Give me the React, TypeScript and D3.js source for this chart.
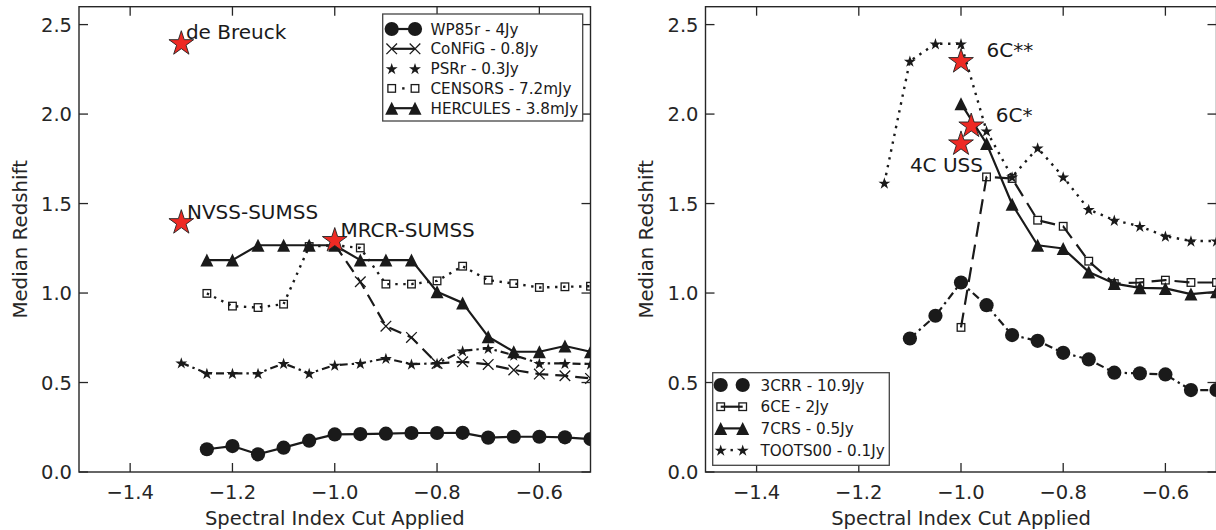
import React from 'react';
import * as d3 from 'd3';

// ---------- data ----------
const xTicks = [-1.4, -1.2, -1.0, -0.8, -0.6];
const yTicks = [0.0, 0.5, 1.0, 1.5, 2.0, 2.5];

// left panel
const wp85X = [-1.25, -1.2, -1.15, -1.1, -1.05, -1.0, -0.95, -0.9, -0.85, -0.8, -0.75, -0.7, -0.65, -0.6, -0.55, -0.5];
const wp85Y = [0.127, 0.145, 0.099, 0.136, 0.175, 0.21, 0.212, 0.214, 0.218, 0.218, 0.219, 0.192, 0.197, 0.197, 0.194, 0.184];
const configX = [-1.0, -0.95, -0.9, -0.85, -0.8, -0.75, -0.7, -0.65, -0.6, -0.55, -0.5];
const configY = [1.27, 1.063, 0.815, 0.752, 0.607, 0.616, 0.601, 0.57, 0.547, 0.538, 0.523];
const psrX = [-1.3, -1.25, -1.2, -1.15, -1.1, -1.05, -1.0, -0.95, -0.9, -0.85, -0.8, -0.75, -0.7, -0.65, -0.6, -0.55, -0.5];
const psrY = [0.61, 0.551, 0.551, 0.551, 0.607, 0.551, 0.597, 0.607, 0.635, 0.603, 0.607, 0.677, 0.691, 0.653, 0.607, 0.607, 0.603];
const censorsX = [-1.25, -1.2, -1.15, -1.1, -1.05, -1.0, -0.95, -0.9, -0.85, -0.8, -0.75, -0.7, -0.65, -0.6, -0.55, -0.5];
const censorsY = [0.998, 0.927, 0.919, 0.938, 1.26, 1.267, 1.252, 1.05, 1.05, 1.068, 1.15, 1.072, 1.053, 1.031, 1.035, 1.038];
const herculesX = [-1.25, -1.2, -1.15, -1.1, -1.05, -1.0, -0.95, -0.9, -0.85, -0.8, -0.75, -0.7, -0.65, -0.6, -0.55, -0.5];
const herculesY = [1.184, 1.184, 1.267, 1.267, 1.267, 1.267, 1.184, 1.184, 1.184, 1.007, 0.945, 0.756, 0.672, 0.672, 0.704, 0.672];

// right panel
const c3rrX = [-1.1, -1.05, -1.0, -0.95, -0.9, -0.85, -0.8, -0.75, -0.7, -0.65, -0.6, -0.55, -0.5];
const c3rrY = [0.746, 0.873, 1.059, 0.932, 0.765, 0.733, 0.666, 0.629, 0.555, 0.551, 0.545, 0.458, 0.458];
const c6ceX = [-1.0, -0.95, -0.9, -0.85, -0.8, -0.75, -0.7, -0.65, -0.6, -0.55, -0.5];
const c6ceY = [0.808, 1.649, 1.64, 1.407, 1.373, 1.178, 1.053, 1.059, 1.072, 1.059, 1.059];
const c7crsX = [-1.0, -0.95, -0.9, -0.85, -0.8, -0.75, -0.7, -0.65, -0.6, -0.55, -0.5];
const c7crsY = [2.058, 1.835, 1.496, 1.267, 1.249, 1.118, 1.053, 1.029, 1.026, 0.994, 1.007];
const tootsX = [-1.15, -1.1, -1.05, -1.0, -0.95, -0.9, -0.85, -0.8, -0.75, -0.7, -0.65, -0.6, -0.55, -0.5];
const tootsY = [1.615, 2.296, 2.393, 2.393, 1.906, 1.649, 1.811, 1.649, 1.467, 1.407, 1.373, 1.318, 1.291, 1.291];

// reference surveys (red stars) and their labels
const leftRefNames = ['de Breuck', 'NVSS-SUMSS', 'MRCR-SUMSS'];
const leftRefX = [-1.3, -1.3, -1.0];
const leftRefY = [2.4, 1.4, 1.3];
const leftLabelX = [-1.291, -1.289, -0.989];
const leftLabelY = [2.418, 1.413, 1.312];

const rightRefNames = ['6C**', '6C*', '4C USS'];
const rightRefX = [-1.0, -0.98, -1.0];
const rightRefY = [2.3, 1.94, 1.84];
const rightLabelX = [-0.95, -0.932, -1.1];
const rightLabelY = [2.317, 1.954, 1.675];

const leftLegend = ['WP85r - 4Jy', 'CoNFiG - 0.8Jy', 'PSRr - 0.3Jy', 'CENSORS - 7.2mJy', 'HERCULES - 3.8mJy'];
const rightLegend = ['3CRR - 10.9Jy', '6CE - 2Jy', '7CRS - 0.5Jy', 'TOOTS00 - 0.1Jy'];

// ---------- style ----------
const FONT = 'DejaVu Sans, Bitstream Vera Sans, sans-serif';
const INK = '#1a1a1a';
const AX = '#262626';
const TOP = 6.7;
const BOTTOM = 472;

type Marker = 'circle' | 'x' | 'star' | 'square' | 'triangle';
type Kind = 'solid' | 'dashed' | 'dotted' | 'dashdot';
interface Series { xs: number[]; ys: number[]; marker: Marker; kind: Kind; dash: string | null; lw: number; }

const DOTTED = '2.4,5.6';
const DASHDOT = '8,4,2.4,4';
const DASHED = '13,7';

const leftSeries: Series[] = [
  { xs: wp85X, ys: wp85Y, marker: 'circle', kind: 'solid', dash: null, lw: 2.2 },
  { xs: configX, ys: configY, marker: 'x', kind: 'dashed', dash: DASHED, lw: 2.2 },
  { xs: psrX, ys: psrY, marker: 'star', kind: 'dashdot', dash: DASHDOT, lw: 2.2 },
  { xs: censorsX, ys: censorsY, marker: 'square', kind: 'dotted', dash: DOTTED, lw: 2.4 },
  { xs: herculesX, ys: herculesY, marker: 'triangle', kind: 'solid', dash: null, lw: 2.2 },
];
const rightSeries: Series[] = [
  { xs: c3rrX, ys: c3rrY, marker: 'circle', kind: 'dashdot', dash: DASHDOT, lw: 2.2 },
  { xs: c6ceX, ys: c6ceY, marker: 'square', kind: 'dashed', dash: '15,8', lw: 2.2 },
  { xs: c7crsX, ys: c7crsY, marker: 'triangle', kind: 'solid', dash: null, lw: 2.2 },
  { xs: tootsX, ys: tootsY, marker: 'star', kind: 'dotted', dash: DOTTED, lw: 2.4 },
];

function starPath(cx: number, cy: number, R: number): string {
  const r = R * 0.382;
  const pts: string[] = [];
  for (let i = 0; i < 10; i++) {
    const a = -Math.PI / 2 + (i * Math.PI) / 5;
    const rad = i % 2 === 0 ? R : r;
    pts.push(`${(cx + rad * Math.cos(a)).toFixed(2)},${(cy + rad * Math.sin(a)).toFixed(2)}`);
  }
  return 'M' + pts.join('L') + 'Z';
}

function MarkerGlyph({ m, x, y }: { m: Marker; x: number; y: number }) {
  switch (m) {
    case 'circle':
      return <circle cx={x} cy={y} r={7.1} fill={INK} />;
    case 'x': {
      const s = 5.3;
      return (
        <path d={`M${x - s},${y - s}L${x + s},${y + s}M${x - s},${y + s}L${x + s},${y - s}`} stroke={INK} strokeWidth={1.3} fill="none" />
      );
    }
    case 'star':
      return <path d={starPath(x, y + 0.6, 6.3)} fill={INK} />;
    case 'square':
      return <rect x={x - 3.8} y={y - 3.8} width={7.6} height={7.6} fill="none" stroke={INK} strokeWidth={1.3} />;
    case 'triangle': {
      const s = 6.5;
      return <path d={`M${x},${y - s}L${x + s},${y + s}L${x - s},${y + s}Z`} fill={INK} />;
    }
  }
  return null;
}

function LegendLine({ s, x1, x2, y }: { s: Series; x1: number; x2: number; y: number }) {
  if (s.kind === 'solid' || s.kind === 'dashed') {
    return <line x1={x1} x2={x2} y1={y} y2={y} stroke={INK} strokeWidth={s.lw} />;
  }
  if (s.kind === 'dotted') {
    const mx = (x1 + x2) / 2;
    return <line x1={mx - 1.2} x2={mx + 1.2} y1={y} y2={y} stroke={INK} strokeWidth={s.lw} />;
  }
  return null;
}

interface PanelProps {
  id: string;
  x0: number;
  x1: number;
  series: Series[];
  refNames: string[];
  refX: number[];
  refY: number[];
  labelX: number[];
  labelY: number[];
  legend: string[];
  legendBox: { x: number; y: number; w: number; h: number; row0: number; step: number; m1: number; m2: number; tx: number };
  ylabelX: number;
}

function Panel(p: PanelProps) {
  const x = d3.scaleLinear().domain([-1.5, -0.5]).range([p.x0, p.x1]);
  const y = d3.scaleLinear().domain([0, 2.6]).range([BOTTOM, TOP]);
  const line = d3.line<number>();
  const TL = 9;
  const fmtX = (v: number) => d3.format('.1f')(v).replace('-', '\u2212');
  const lb = p.legendBox;
  return (
    <g>
      <defs>
        <clipPath id={p.id}>
          <rect x={p.x0} y={TOP} width={p.x1 - p.x0} height={BOTTOM - TOP} />
        </clipPath>
      </defs>
      <g clipPath={`url(#${p.id})`}>
        {p.series.map((s, i) => (
          <g key={i}>
            <path
              d={line(s.xs.map((v, j) => [x(v), y(s.ys[j])]) as any) || ''}
              fill="none"
              stroke={INK}
              strokeWidth={s.lw}
              strokeDasharray={s.dash || undefined}
              strokeLinejoin="round"
            />
            {s.xs.map((v, j) => (
              <MarkerGlyph key={j} m={s.marker} x={x(v)} y={y(s.ys[j])} />
            ))}
          </g>
        ))}
      </g>
      {/* red stars */}
      {p.refX.map((v, i) => (
        <path key={'r' + i} d={starPath(x(v), y(p.refY[i]) + 1.2, 13)} fill="#ee2a24" stroke="#222" strokeWidth={0.9} strokeLinejoin="miter" />
      ))}
      {p.refNames.map((t, i) => (
        <text key={'t' + i} x={x(p.labelX[i])} y={y(p.labelY[i])} fontFamily={FONT} fontSize={20} fill={INK}>
          {t}
        </text>
      ))}
      {/* frame */}
      <rect x={p.x0} y={TOP} width={p.x1 - p.x0} height={BOTTOM - TOP} fill="none" stroke={AX} strokeWidth={1.4} />
      {xTicks.map((t) => (
        <g key={'xt' + t}>
          <line x1={x(t)} x2={x(t)} y1={BOTTOM} y2={BOTTOM - TL} stroke={AX} strokeWidth={1.3} />
          <line x1={x(t)} x2={x(t)} y1={TOP} y2={TOP + TL} stroke={AX} strokeWidth={1.3} />
          <text x={x(t)} y={BOTTOM + 27} textAnchor="middle" fontFamily={FONT} fontSize={19.5} fill={AX}>
            {fmtX(t)}
          </text>
        </g>
      ))}
      {yTicks.map((t) => (
        <g key={'yt' + t}>
          <line x1={p.x0} x2={p.x0 + TL} y1={y(t)} y2={y(t)} stroke={AX} strokeWidth={1.3} />
          <line x1={p.x1} x2={p.x1 - TL} y1={y(t)} y2={y(t)} stroke={AX} strokeWidth={1.3} />
          <text x={p.x0 - 7} y={y(t) + 7} textAnchor="end" fontFamily={FONT} fontSize={19.5} fill={AX}>
            {d3.format('.1f')(t)}
          </text>
        </g>
      ))}
      <text x={(p.x0 + p.x1) / 2} y={525} textAnchor="middle" fontFamily={FONT} fontSize={19.5} fill={AX}>
        Spectral Index Cut Applied
      </text>
      <text
        transform={`translate(${p.ylabelX},${(TOP + BOTTOM) / 2}) rotate(-90)`}
        textAnchor="middle"
        fontFamily={FONT}
        fontSize={19.8}
        fill={AX}
      >
        Median Redshift
      </text>
      {/* legend */}
      <rect x={lb.x} y={lb.y} width={lb.w} height={lb.h} fill="#fff" stroke="#444" strokeWidth={1.3} />
      {p.legend.map((t, i) => {
        const s = p.series[i];
        const cy = lb.row0 + i * lb.step;
        return (
          <g key={'lg' + i}>
            <LegendLine s={s} x1={lb.m1} x2={lb.m2} y={cy} />
            <MarkerGlyph m={s.marker} x={lb.m1} y={cy} />
            <MarkerGlyph m={s.marker} x={lb.m2} y={cy} />
            <text x={lb.tx} y={cy + 5.5} fontFamily={FONT} fontSize={15.2} fill={INK}>
              {t}
            </text>
          </g>
        );
      })}
    </g>
  );
}

export default function App() {
  return (
    <svg
      width={1216}
      height={530}
      viewBox="0 0 1216 530"
      style={{ position: 'absolute', left: 0, top: 0, display: 'block', background: '#fff' }}
    >
      <rect x={0} y={0} width={1216} height={530} fill="#fff" />
      <Panel
        id="clipL"
        x0={79}
        x1={590.5}
        series={leftSeries}
        refNames={leftRefNames}
        refX={leftRefX}
        refY={leftRefY}
        labelX={leftLabelX}
        labelY={leftLabelY}
        legend={leftLegend}
        legendBox={{ x: 382.7, y: 14, w: 200, h: 107, row0: 29, step: 19.8, m1: 391.7, m2: 415, tx: 430.5 }}
        ylabelX={27}
      />
      <Panel
        id="clipR"
        x0={705.5}
        x1={1216.5}
        series={rightSeries}
        refNames={rightRefNames}
        refX={rightRefX}
        refY={rightRefY}
        labelX={rightLabelX}
        labelY={rightLabelY}
        legend={rightLegend}
        legendBox={{ x: 712.7, y: 372.7, w: 176.6, h: 92.6, row0: 385, step: 21.7, m1: 720.7, m2: 742.7, tx: 760.5 }}
        ylabelX={653}
      />
    </svg>
  );
}
